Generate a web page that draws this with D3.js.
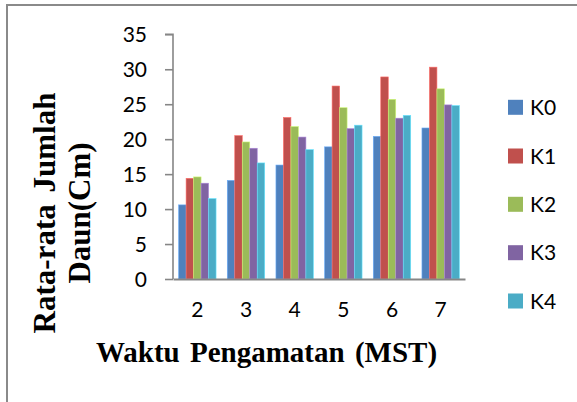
<!DOCTYPE html>
<html><head><meta charset="utf-8">
<script src="https://cdn.jsdelivr.net/npm/d3@7"></script>
<style>body{margin:0;background:#fff}svg{display:block}</style>
</head><body>
<svg id="c" width="577" height="402"></svg>
<script>
const categories = ["2","3","4","5","6","7"];
const seriesNames = ["K0","K1","K2","K3","K4"];
const K0 = [10.6, 14.1, 16.3, 18.9, 20.4, 21.6];
const K1 = [14.4, 20.5, 23.1, 27.6, 28.9, 30.3];
const K2 = [14.6, 19.6, 21.8, 24.5, 25.7, 27.2];
const K3 = [13.7, 18.7, 20.3, 21.5, 23.0, 24.9];
const K4 = [11.5, 16.6, 18.5, 22.0, 23.4, 24.8];
const yTicks = [0,5,10,15,20,25,30,35];
const colors = ["#4F81BD","#C0504D","#9BBB59","#8064A2","#4BACC6"];
const seriesValues = [K0,K1,K2,K3,K4];

(function(){
const svg = d3.select("#c");
svg.append("path").attr("d","M7,402 V5 H577").attr("fill","none").attr("stroke","#8a8a8a").attr("stroke-width",2);

const pL=173, pR=465, pT=34.3, pB=279;
const x0 = d3.scaleBand().domain(categories).range([pL,pR]).paddingInner(0).paddingOuter(0);
const x1 = d3.scaleBand().domain(seriesNames).range([0,x0.bandwidth()]).paddingInner(0).paddingOuter(0.75);
const y = d3.scaleLinear().domain([0,35]).range([pB,pT]);

const data = [];
categories.forEach((c,i)=>seriesNames.forEach((s,j)=>data.push({c,s,v:seriesValues[j][i],j})));

svg.append("g").selectAll("rect").data(data).join("rect")
  .attr("x",d=>x0(d.c)+x1(d.s))
  .attr("y",d=>y(d.v))
  .attr("width",x1.bandwidth())
  .attr("height",d=>y(0)-y(d.v))
  .attr("fill",d=>colors[d.j])
  .attr("stroke",d=>d3.color(colors[d.j]).brighter(0.8))
  .attr("stroke-width",0.6);

const ya = svg.append("g").attr("transform",`translate(${pL},0)`)
  .call(d3.axisLeft(y).tickValues(yTicks).tickSize(8).tickPadding(18).tickFormat(d3.format("d")));
ya.select(".domain").attr("stroke","#868686").attr("stroke-width",1.6).attr("d",`M-8,${pT}H0V${pB}`);
ya.selectAll(".tick line").attr("stroke","#868686").attr("stroke-width",1.6);
ya.selectAll(".tick text").attr("font-family","Lato").attr("font-size",21).attr("fill","#000").attr("dy","0.36em");

const xa = svg.append("g").attr("transform",`translate(0,${pB})`)
  .call(d3.axisBottom(x0).tickSize(0).tickPadding(23));
xa.select(".domain").attr("stroke","#868686").attr("stroke-width",1.8);
xa.selectAll(".tick text").attr("font-family","Lato").attr("font-size",21).attr("fill","#000");

svg.append("text").attr("x",266.5).attr("y",362).attr("text-anchor","middle")
  .attr("font-family","Liberation Serif").attr("font-weight","bold").attr("font-size",29)
  .attr("word-spacing",3)
  .text("Waktu Pengamatan (MST)");
const yt = svg.append("text").attr("transform","translate(55,213) rotate(-90)")
  .attr("text-anchor","middle").attr("font-family","Liberation Serif").attr("font-weight","bold").attr("font-size",31)
  .attr("word-spacing",4);
yt.append("tspan").attr("x",0).attr("y",0).text("Rata-rata Jumlah");
yt.append("tspan").attr("x",0).attr("y",35).text("Daun(Cm)");

const legY = [107.3,156,204.3,252.7,301];
const lg = svg.append("g").selectAll("g").data(seriesNames).join("g")
  .attr("transform",(d,i)=>`translate(508,${legY[i]})`);
lg.append("rect").attr("x",0).attr("y",-7.5).attr("width",15).attr("height",15).attr("fill",(d,i)=>colors[i]);
lg.append("text").attr("x",22).attr("y",0).attr("dy","0.36em").attr("font-family","Lato").attr("font-size",21).text(d=>d);
})();
</script>
</body></html>
